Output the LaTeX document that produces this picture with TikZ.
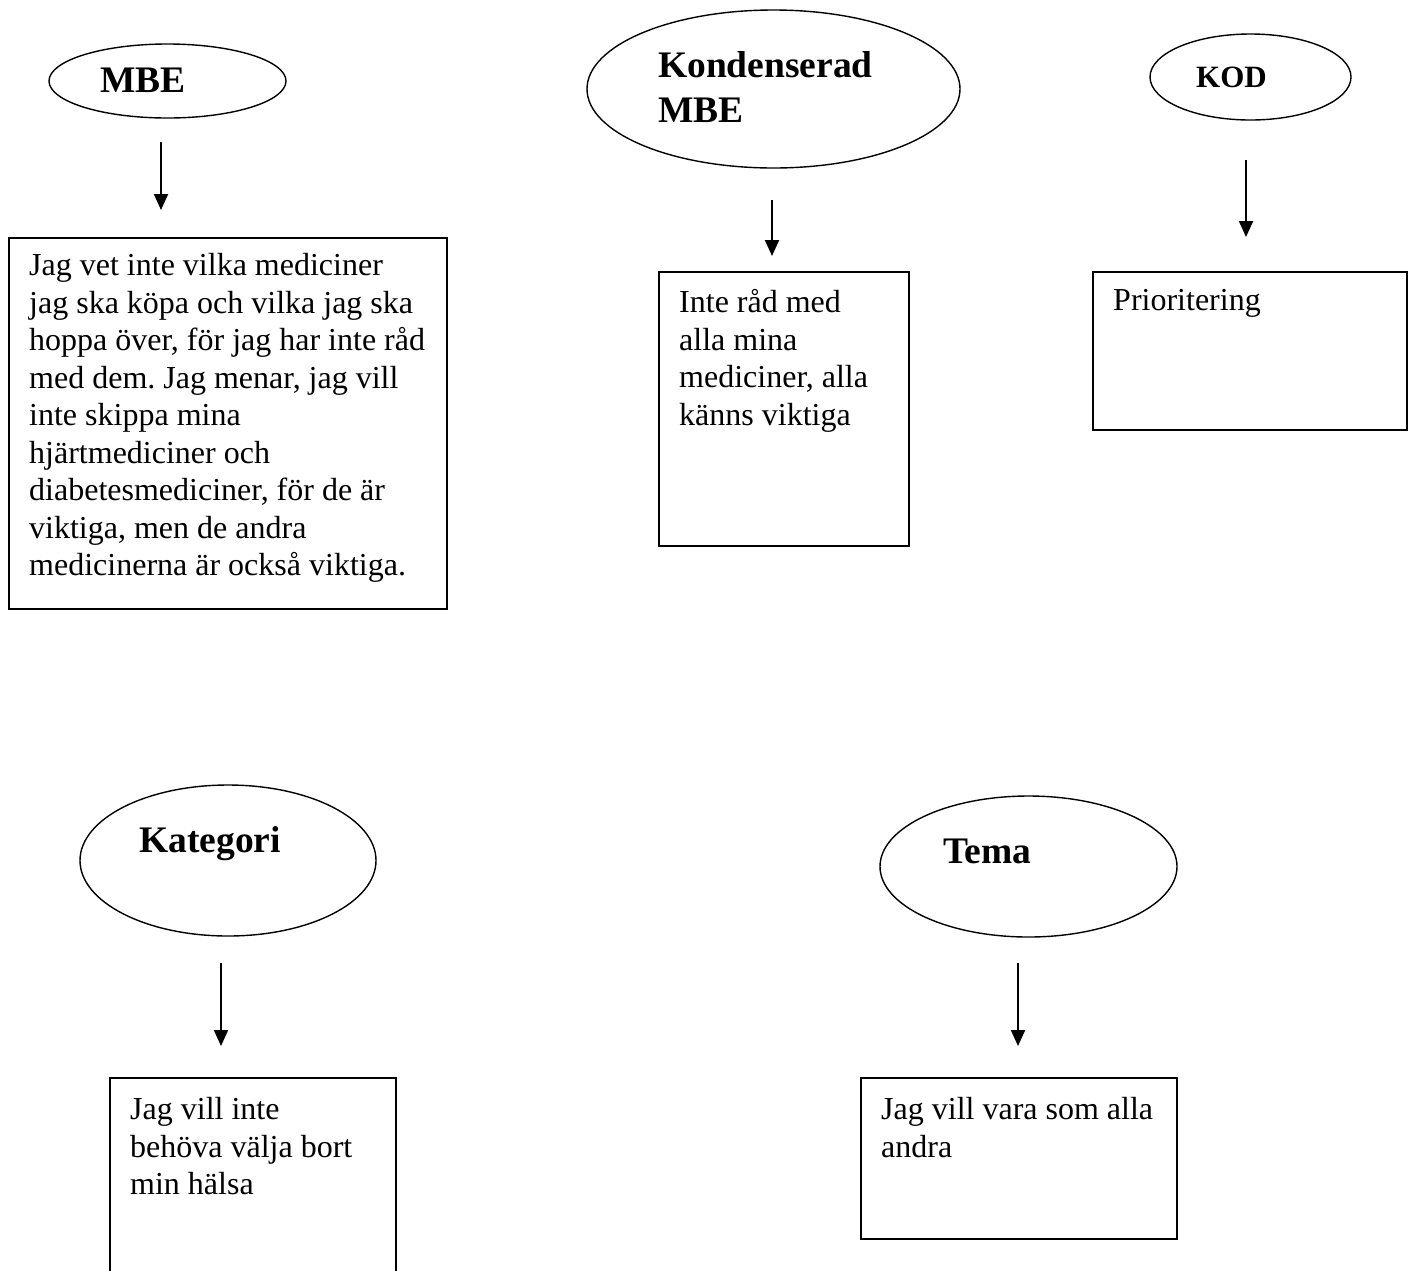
\documentclass[tikz,border=0pt]{standalone}
\usepackage{fontspec}
\setmainfont{Liberation Serif}
\usetikzlibrary{shapes.geometric,arrows.meta}
\frenchspacing
\begin{document}
\begin{tikzpicture}[x=1pt,y=-1pt,
  oval/.style={draw,ellipse,line width=1.4pt,inner sep=0pt},
  card/.style={draw,rectangle,line width=1.6pt,anchor=north west,inner sep=0pt},
  body/.style={anchor=north west,inner sep=0pt,align=left,font=\fontsize{32}{37.5}\selectfont},
  title/.style={anchor=base west,inner sep=0pt,align=left,font=\fontsize{37.5}{45}\selectfont\bfseries},
  arr/.style={line width=2pt,-{Triangle[width=14pt,length=16pt]}}]
\clip (0,0) rectangle (1412,1270);
\fill[white] (0,0) rectangle (1412,1270);
% ellipses
\node[oval,minimum width=237pt,minimum height=74pt] (e1) at (167.5,81) {};
\node[oval,minimum width=373pt,minimum height=158pt] (e2) at (773.5,89) {};
\node[oval,minimum width=201pt,minimum height=86pt] (e3) at (1250.5,77) {};
\node[oval,minimum width=296pt,minimum height=151pt] (e4) at (228,860.5) {};
\node[oval,minimum width=297pt,minimum height=141pt] (e5) at (1028.5,866.5) {};
% titles
\node[title] (t1) at (100,92.5) {MBE};
\node[title,anchor=north west] (t2) at (658,51.5) {Kondenserad\\MBE};
\node[title,font=\fontsize{31}{37}\selectfont\bfseries] (t3) at (1196,87) {KOD};
\node[title] (t4) at (139,852) {Kategori};
\node[title] (t5) at (943,863) {Tema};
% boxes
\node[card,minimum width=438pt,minimum height=371pt] (b1) at (8,237) {};
\node[card,minimum width=250pt,minimum height=274pt] (b2) at (658,271) {};
\node[card,minimum width=314pt,minimum height=158pt] (b3) at (1092,271) {};
\node[card,minimum width=286pt,minimum height=220pt] (b4) at (109,1077) {};
\node[card,minimum width=316pt,minimum height=161pt] (b5) at (860,1077) {};
% body texts
\node[body] (x1) at (29,253.5) {Jag vet inte vilka mediciner\\jag ska köpa och vilka jag ska\\hoppa över, för jag har inte råd\\med dem. Jag menar, jag vill\\inte skippa mina\\hjärtmediciner och\\diabetesmediciner, för de är\\viktiga, men de andra\\medicinerna är också viktiga.};
\node[body] (x2) at (679,289.5) {Inte råd med\\alla mina\\mediciner, alla\\känns viktiga};
\node[body] (x3) at (1113,289.5) {Prioritering};
\node[body] (x4) at (130,1097.5) {Jag vill inte\\behöva välja bort\\min hälsa};
\node[body] (x5) at (881,1097.5) {Jag vill vara som alla\\andra};
% arrows
\coordinate (a1s) at (161,142); \coordinate (a1e) at (161,210);
\coordinate (a2s) at (772,200); \coordinate (a2e) at (772,256);
\coordinate (a3s) at (1246,160); \coordinate (a3e) at (1246,237);
\coordinate (a4s) at (221,963); \coordinate (a4e) at (221,1046);
\coordinate (a5s) at (1018,963); \coordinate (a5e) at (1018,1046);
\draw[arr] (a1s) -- (a1e);
\draw[arr] (a2s) -- (a2e);
\draw[arr] (a3s) -- (a3e);
\draw[arr] (a4s) -- (a4e);
\draw[arr] (a5s) -- (a5e);
\end{tikzpicture}
\end{document}
